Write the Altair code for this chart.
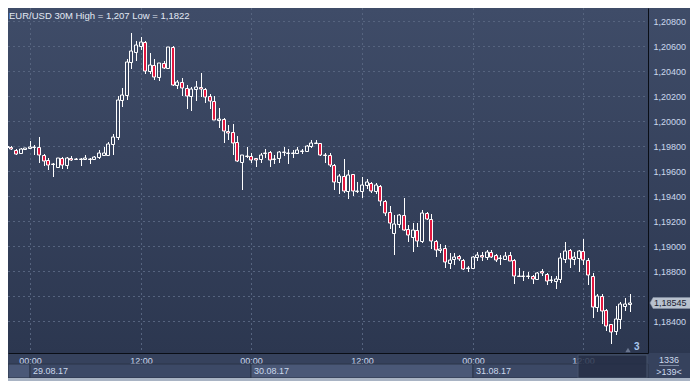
import altair as alt
import pandas as pd

# ---------------- data ----------------
TITLE = "EUR/USD 30M High = 1,207 Low = 1,1822"

# bar index: 0 = 29.08.17 00:00, one step = 30 minutes
bar_index = list(range(-5, 131))

opens = [
    1.19791, 1.19795, 1.19770, 1.19744, 1.19780, 1.19782, 1.19795, 1.19795, 1.19732, 1.19686,
    1.19660, 1.19635, 1.19701, 1.19648, 1.19701, 1.19698, 1.19694, 1.19694, 1.19696, 1.19696,
    1.19711, 1.19726, 1.19732, 1.19813, 1.19872, 1.20169, 1.20207, 1.20474, 1.20553, 1.20602,
    1.20627, 1.20398, 1.20449, 1.20350, 1.20465, 1.20426, 1.20587, 1.20286, 1.20312, 1.20261,
    1.20202, 1.20253, 1.20271, 1.20253, 1.20197, 1.20159, 1.20011, 1.20016, 1.19923, 1.19915,
    1.19833, 1.19675, 1.19724, 1.19724, 1.19701, 1.19694, 1.19742, 1.19752, 1.19694, 1.19701,
    1.19752, 1.19747, 1.19747, 1.19747, 1.19762, 1.19762, 1.19803, 1.19828, 1.19823, 1.19732,
    1.19726, 1.19650, 1.19515, 1.19558, 1.19439, 1.19574, 1.19439, 1.19439, 1.19490, 1.19502,
    1.19439, 1.19482, 1.19362, 1.19273, 1.19108, 1.19179, 1.19253, 1.19141, 1.19075, 1.19126,
    1.19045, 1.19268, 1.19217, 1.19039, 1.18973, 1.18989, 1.18867, 1.18897, 1.18923, 1.18893,
    1.18828, 1.18828, 1.18915, 1.18930, 1.18912, 1.18955, 1.18930, 1.18910, 1.18897, 1.18930,
    1.18893, 1.18765, 1.18765, 1.18765, 1.18765, 1.18740, 1.18801, 1.18778, 1.18734, 1.18719,
    1.18740, 1.18897, 1.18973, 1.18897, 1.18905, 1.18963, 1.18893, 1.18765, 1.18515, 1.18607,
    1.18490, 1.18378, 1.18327, 1.18421, 1.18520, 1.18536,
]
highs = [
    1.19803, 1.19803, 1.19775, 1.19782, 1.19788, 1.19839, 1.19808, 1.19872, 1.19739, 1.19706,
    1.19668, 1.19706, 1.19711, 1.19711, 1.19719, 1.19706, 1.19701, 1.19732, 1.19706, 1.19724,
    1.19770, 1.19795, 1.19833, 1.19897, 1.20202, 1.20266, 1.20495, 1.20700, 1.20640, 1.20673,
    1.20635, 1.20541, 1.20495, 1.20465, 1.20482, 1.20592, 1.20597, 1.20330, 1.20342, 1.20291,
    1.20271, 1.20317, 1.20381, 1.20266, 1.20215, 1.20202, 1.20101, 1.20024, 1.19966, 1.19973,
    1.19879, 1.19732, 1.19795, 1.19744, 1.19706, 1.19744, 1.19778, 1.19757, 1.19726, 1.19757,
    1.19795, 1.19778, 1.19772, 1.19795, 1.19778, 1.19808, 1.19847, 1.19847, 1.19828, 1.19744,
    1.19744, 1.19655, 1.19579, 1.19694, 1.19610, 1.19579, 1.19515, 1.19549, 1.19533, 1.19515,
    1.19502, 1.19490, 1.19370, 1.19319, 1.19253, 1.19261, 1.19388, 1.19171, 1.19184, 1.19184,
    1.19293, 1.19273, 1.19261, 1.19049, 1.19019, 1.19007, 1.18943, 1.18948, 1.18930, 1.18897,
    1.18846, 1.18923, 1.18955, 1.18955, 1.18968, 1.18968, 1.18937, 1.18930, 1.18955, 1.18955,
    1.18897, 1.18828, 1.18803, 1.18795, 1.18770, 1.18795, 1.18816, 1.18785, 1.18765, 1.18765,
    1.18948, 1.19032, 1.18981, 1.18955, 1.18968, 1.19057, 1.18905, 1.18785, 1.18617, 1.18617,
    1.18498, 1.18383, 1.18523, 1.18556, 1.18591, 1.18617,
]
lows = [
    1.19784, 1.19768, 1.19732, 1.19739, 1.19772, 1.19778, 1.19732, 1.19668, 1.19643, 1.19610,
    1.19553, 1.19625, 1.19617, 1.19617, 1.19681, 1.19686, 1.19643, 1.19686, 1.19660, 1.19686,
    1.19694, 1.19719, 1.19719, 1.19732, 1.19849, 1.20114, 1.20169, 1.20419, 1.20482, 1.20566,
    1.20373, 1.20373, 1.20324, 1.20322, 1.20419, 1.20419, 1.20278, 1.20253, 1.20202, 1.20093,
    1.20083, 1.20159, 1.20190, 1.20144, 1.20093, 1.20006, 1.19948, 1.19821, 1.19847, 1.19726,
    1.19675, 1.19452, 1.19706, 1.19668, 1.19630, 1.19668, 1.19706, 1.19630, 1.19660, 1.19668,
    1.19719, 1.19660, 1.19706, 1.19736, 1.19736, 1.19752, 1.19788, 1.19813, 1.19719, 1.19668,
    1.19635, 1.19447, 1.19414, 1.19426, 1.19381, 1.19401, 1.19426, 1.19388, 1.19457, 1.19426,
    1.19414, 1.19324, 1.19243, 1.19141, 1.18930, 1.19146, 1.19123, 1.19032, 1.18955, 1.18994,
    1.19024, 1.19210, 1.18981, 1.18917, 1.18943, 1.18828, 1.18821, 1.18854, 1.18879, 1.18811,
    1.18795, 1.18821, 1.18884, 1.18879, 1.18892, 1.18905, 1.18872, 1.18854, 1.18892, 1.18879,
    1.18702, 1.18752, 1.18719, 1.18740, 1.18702, 1.18727, 1.18765, 1.18694, 1.18709, 1.18658,
    1.18709, 1.18867, 1.18828, 1.18854, 1.18795, 1.18854, 1.18694, 1.18429, 1.18472, 1.18383,
    1.18327, 1.18220, 1.18294, 1.18337, 1.18484, 1.18479,
]
closes = [
    1.19795, 1.19775, 1.19739, 1.19778, 1.19782, 1.19795, 1.19795, 1.19732, 1.19681, 1.19648,
    1.19660, 1.19701, 1.19650, 1.19706, 1.19686, 1.19698, 1.19694, 1.19706, 1.19694, 1.19711,
    1.19744, 1.19742, 1.19820, 1.19872, 1.20169, 1.20207, 1.20474, 1.20558, 1.20604, 1.20627,
    1.20398, 1.20449, 1.20350, 1.20465, 1.20426, 1.20587, 1.20286, 1.20312, 1.20261, 1.20202,
    1.20253, 1.20271, 1.20253, 1.20190, 1.20159, 1.20011, 1.20019, 1.19923, 1.19905, 1.19828,
    1.19681, 1.19726, 1.19724, 1.19688, 1.19686, 1.19732, 1.19742, 1.19691, 1.19694, 1.19752,
    1.19752, 1.19747, 1.19747, 1.19765, 1.19762, 1.19803, 1.19828, 1.19828, 1.19732, 1.19726,
    1.19650, 1.19515, 1.19558, 1.19439, 1.19566, 1.19439, 1.19439, 1.19490, 1.19515, 1.19439,
    1.19490, 1.19362, 1.19268, 1.19184, 1.19179, 1.19253, 1.19133, 1.19090, 1.19126, 1.19045,
    1.19268, 1.19217, 1.19039, 1.18973, 1.18981, 1.18872, 1.18893, 1.18917, 1.18897, 1.18816,
    1.18828, 1.18917, 1.18930, 1.18912, 1.18955, 1.18912, 1.18893, 1.18910, 1.18923, 1.18879,
    1.18765, 1.18765, 1.18765, 1.18765, 1.18740, 1.18790, 1.18783, 1.18719, 1.18734, 1.18740,
    1.18905, 1.18963, 1.18897, 1.18917, 1.18963, 1.18893, 1.18770, 1.18515, 1.18607, 1.18484,
    1.18362, 1.18312, 1.18421, 1.18536, 1.18536, 1.18545,
]

x_ticks = [0, 24, 48, 72, 96, 120]
x_tick_labels = ["00:00", "12:00", "00:00", "12:00", "00:00", "12:00"]
day_starts = [-48, 0, 48, 96]
day_ends = [0, 48, 96, 144]
day_labels = ["28.08.17", "29.08.17", "30.08.17", "31.08.17"]
price_ticks = [1.184, 1.186, 1.188, 1.190, 1.192, 1.194, 1.196,
               1.198, 1.200, 1.202, 1.204, 1.206, 1.208]
counter_top = "1336"
counter_bottom = ">139<"
corner_mark = "3"

# ---------------- layout / style ----------------
W, H = 640, 345
RIGHT, BOTTOM = 42, 28
FONT = "Liberation Sans"
LABEL = "#cbd8ec"
GRID = "#56647f"
RED = "#e3173f"
BG = "#36425d"
LIGHT = "#4a5877"
MID = "#3c4966"

X_DOMAIN = [-4.74, 134.0]
Y_DOMAIN = [1.18148, 1.20902]

x_scale = alt.Scale(domain=X_DOMAIN, nice=False, zero=False, round=True, clamp=True, padding=0)
y_scale = alt.Scale(domain=Y_DOMAIN, nice=False, zero=False, round=True, padding=0)

x_expr = "".join(f"datum.value == {v} ? '{l}' : " for v, l in zip(x_ticks, x_tick_labels)) + "''"
hidden = [v for v in price_ticks if abs(v - closes[-1]) < 0.0007]
y_expr = "replace(format(datum.value, '.5f'), '.', ',')"
if hidden:
    y_expr = "(" + " || ".join(f"abs(datum.value - {v}) < 0.000001" for v in hidden) + ") ? '' : " + y_expr

x_axis = alt.Axis(orient="bottom", values=x_ticks, labelExpr=x_expr, title=None,
                  grid=False, ticks=False, domain=True, domainColor="#0a0e16",
                  labelPadding=3, labelFont=FONT, labelFontSize=9,
                  labelColor=LABEL, labelAlign="center", zindex=0)
y_axis = alt.Axis(orient="right", values=price_ticks, labelExpr=y_expr, title=None,
                  grid=False, ticks=False, domain=True, domainColor="#0a0e16",
                  labelPadding=5, labelFont=FONT, labelFontSize=9,
                  labelColor=LABEL, labelAlign="left", zindex=1)

grad = alt.LinearGradient(
    gradient="linear",
    stops=[alt.GradientStop(color="#3f4c68", offset=0),
           alt.GradientStop(color="#2c3750", offset=1)],
    x1=0, x2=0, y1=0, y2=1,
)

candles = pd.DataFrame({"k": bar_index, "open": opens, "high": highs,
                        "low": lows, "close": closes})
one = pd.DataFrame({"v": [0]})

# ---------------- layers ----------------
bg_plot = alt.Chart(one).mark_rect(fill=grad).encode(
    x=alt.value(0), x2=alt.value(W), y=alt.value(0), y2=alt.value(H))
bg_right = alt.Chart(one).mark_rect(fill=grad).encode(
    x=alt.value(W + 1), x2=alt.value(W + RIGHT), y=alt.value(0), y2=alt.value(H))

grid_h = alt.Chart(pd.DataFrame({"open": price_ticks})).mark_rule(
    color=GRID, strokeDash=[2, 3], strokeWidth=1, yOffset=0.5).encode(
    y=alt.Y("open:Q", scale=y_scale, axis=y_axis), x=alt.value(0), x2=alt.value(W))
grid_v = alt.Chart(pd.DataFrame({"k": x_ticks})).mark_rule(
    color=GRID, strokeDash=[2, 3], strokeWidth=1, xOffset=0.5).encode(
    x=alt.X("k:Q", scale=x_scale, axis=x_axis), y=alt.value(0), y2=alt.value(H))

base = alt.Chart(candles).transform_calculate(
    top="max(datum.open, datum.close)", bot="min(datum.open, datum.close)")

wick_hi = base.mark_rule(color="white", strokeWidth=1, xOffset=0.5).encode(
    x=alt.X("k:Q", scale=x_scale, axis=x_axis),
    y=alt.Y("high:Q", scale=y_scale, axis=y_axis), y2="top:Q")
wick_lo = base.mark_rule(color="white", strokeWidth=1, xOffset=0.5).encode(
    x=alt.X("k:Q", scale=x_scale, axis=x_axis),
    y=alt.Y("bot:Q", scale=y_scale, axis=y_axis), y2="low:Q")

body = base.mark_bar(size=3, stroke="white", strokeWidth=1, yOffset=0.5).encode(
    x=alt.X("k:Q", scale=x_scale, axis=x_axis),
    y=alt.Y("open:Q", scale=y_scale, axis=y_axis),
    y2="close:Q",
    fill=alt.condition("datum.close >= datum.open", alt.value("transparent"), alt.value(RED)),
)

days = pd.DataFrame({"k": day_starts, "end": day_ends, "label": day_labels})
day_boxes = alt.Chart(days).transform_calculate(
    light="abs(datum.k / 48) % 2 == 1").mark_rect(stroke="#2b3449", strokeWidth=1).encode(
    x=alt.X("k:Q", scale=x_scale, axis=x_axis), x2="end:Q",
    y=alt.value(H + 11), y2=alt.value(H + 25),
    fill=alt.condition("datum.light", alt.value(LIGHT), alt.value(MID)))
day_text = alt.Chart(days).transform_filter(f"datum.k >= {X_DOMAIN[0]}").mark_text(
    align="left", baseline="middle", dx=3, font=FONT, fontSize=9, color=LABEL).encode(
    x=alt.X("k:Q", scale=x_scale, axis=x_axis), y=alt.value(H + 18), text="label:N")

dark_box = alt.Chart(one).mark_rect(fill="#252e45", opacity=0.82, stroke="#4a566e").encode(
    x=alt.value(W - 70), x2=alt.value(W - 1), y=alt.value(H + 2), y2=alt.value(H + 25))
bottom_border = alt.Chart(one).mark_rect(fill="#a9b4c4").encode(
    x=alt.value(0), x2=alt.value(W + RIGHT), y=alt.value(H + 25), y2=alt.value(H + BOTTOM))

last = pd.DataFrame({"open": [closes[-1]]})
TAG = "M-1,0L-0.86,-0.25L1,-0.25L1,0.25L-0.86,0.25Z"
tag = alt.Chart(last).mark_point(shape=TAG, size=1936, filled=True, fill="#b8c1ce",
                                 stroke="#8c97a8", strokeWidth=0.5, opacity=1).encode(
    x=alt.value(W + 24), y=alt.Y("open:Q", scale=y_scale, axis=y_axis))
tag_text = alt.Chart(last).transform_calculate(
    label="replace(format(datum.open, '.5f'), '.', ',')").mark_text(
    align="left", baseline="middle", font=FONT, fontSize=9, color="#1a2232").encode(
    x=alt.value(W + 6), y=alt.Y("open:Q", scale=y_scale, axis=y_axis), text="label:N")

title = alt.Chart(pd.DataFrame({"t": [TITLE]})).mark_text(
    align="left", baseline="middle", font=FONT, fontSize=9.5, color="#e2e9f4").encode(
    x=alt.value(1), y=alt.value(8), text="t:N")

counter_a = alt.Chart(pd.DataFrame({"t": [counter_top]})).mark_text(
    align="center", baseline="middle", font=FONT, fontSize=9, color=LABEL).encode(
    x=alt.value(W + 21), y=alt.value(H + 7), text="t:N")
counter_b = alt.Chart(pd.DataFrame({"t": [counter_bottom]})).mark_text(
    align="center", baseline="middle", font=FONT, fontSize=9, color=LABEL).encode(
    x=alt.value(W + 21), y=alt.value(H + 19), text="t:N")
counter_rule = alt.Chart(one).mark_rule(color="#7d8aa3", strokeWidth=1).encode(
    x=alt.value(W + 11), x2=alt.value(W + 31), y=alt.value(H + 12.5))

corner = alt.Chart(pd.DataFrame({"t": [corner_mark]})).mark_text(
    align="left", baseline="middle", font=FONT, fontSize=10, fontWeight="bold",
    color="#a8c6ee").encode(x=alt.value(W - 14), y=alt.value(H - 6), text="t:N")
corner_tri = alt.Chart(one).mark_point(shape="triangle-up", size=28, filled=True,
                                       fill="#69758e", opacity=1).encode(
    x=alt.value(W - 20), y=alt.value(H - 3))

chart = alt.layer(
    bg_plot, bg_right, grid_h, grid_v, wick_hi, wick_lo, body,
    day_boxes, day_text, dark_box, bottom_border,
    tag, tag_text, title, counter_a, counter_b, counter_rule, corner, corner_tri,
).properties(
    width=W, height=H,
    autosize=alt.AutoSizeParams(type="none"),
    padding={"left": 0, "top": 0, "right": RIGHT, "bottom": BOTTOM},
    background=BG,
).configure_view(stroke=None)

chart.save("out.html", embed_options={"renderer": "svg", "actions": False})
